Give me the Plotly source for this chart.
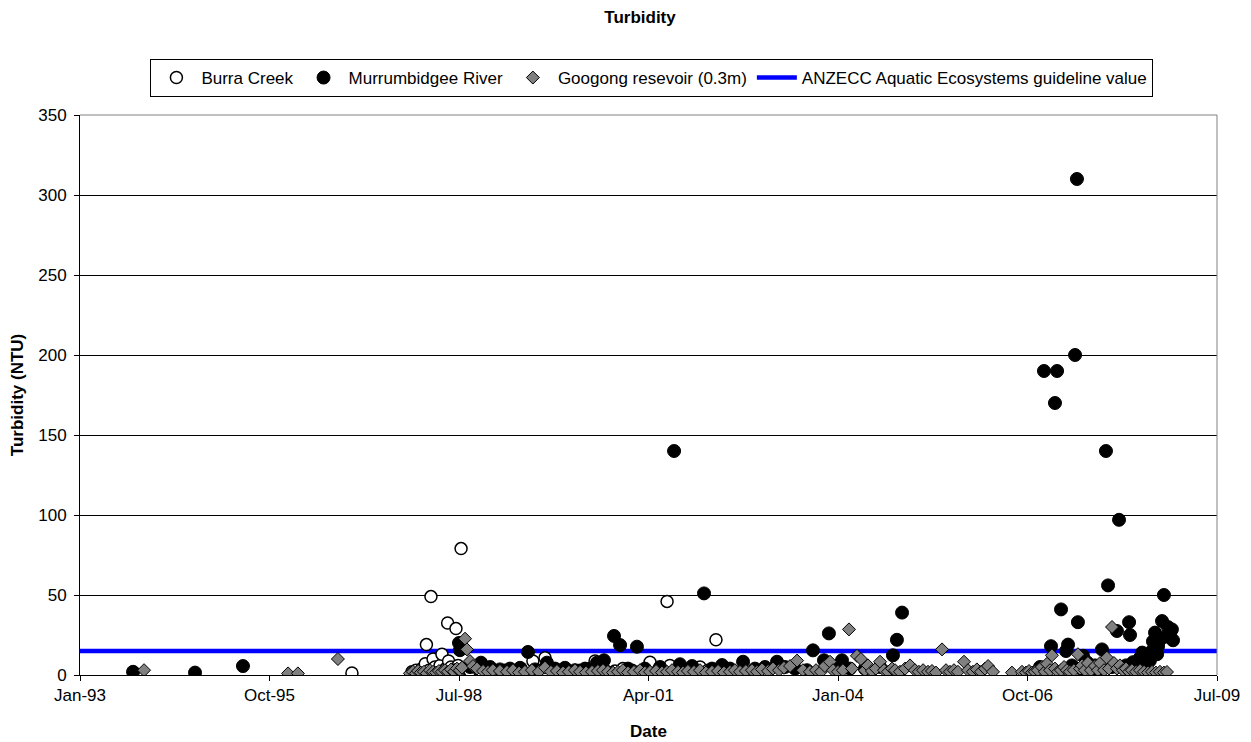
import pandas as pd
import plotly.graph_objects as go

# Dates are Excel serial day numbers (origin 1899-12-30)
burra_serial = [35435, 35752, 35773, 35789, 35805, 35815, 35822, 35828, 35842, 35852,
                35863, 35873, 35884, 35900, 35910, 35921, 35931, 35940, 35945, 35958,
                35968, 35984, 35995, 36011, 36021, 36037, 36058, 36079, 36111, 36153,
                36200, 36243, 36285, 36327, 36390, 36417, 36454, 36491, 36533, 36586,
                36639, 36691, 36718, 36770, 36823, 36865, 36913, 36955, 37008, 37050,
                37098, 37113, 37156, 37208, 37256, 37272, 37314, 37356, 37388, 37430]
burra_ntu = [1.3, 2, 3, 1.5, 4, 2.5, 7, 19, 3, 49,
             10, 5, 2, 6, 13, 3, 4, 32.5, 8.7, 5,
             2, 29, 6, 79, 3, 4, 2.5, 5, 3, 4,
             2.5, 3, 2, 4, 8.7, 3, 10.8, 4, 3, 2,
             3, 4, 8.7, 3, 2.5, 4, 3, 2, 8, 3,
             46, 6, 3, 2.5, 4, 5, 3, 22, 2, 3]

murr_serial = [34280, 34607, 34860, 35979, 36000, 36005, 36058, 36116, 36164, 36216,
               36269, 36322, 36364, 36401, 36464, 36507, 36559, 36612, 36665, 36728,
               36765, 36818, 36850, 36892, 36939, 36981, 37061, 37135, 37166, 37230,
               37293, 37335, 37388, 37430, 37499, 37562, 37615, 37678, 37720, 37773,
               37836, 37868, 37926, 37952, 37984, 38021, 38063, 38142, 38222, 38290,
               38311, 38338,
               39066, 39087, 39124, 39145, 39156, 39177, 39203, 39214, 39235, 39251,
               39261, 39266, 39282, 39293, 39314, 39356, 39372, 39393, 39414, 39425,
               39446, 39472, 39483, 39499, 39520, 39536, 39541, 39557, 39578, 39594,
               39605, 39615, 39631, 39646, 39657, 39662, 39673, 39684, 39689, 39699,
               39710, 39720, 39731, 39741, 39752, 39762, 39768]
murr_ntu = [2, 1.5, 5.6, 3, 20, 15.5, 5, 7.7, 5, 3.5,
            4, 4.5, 14.4, 3.5, 7.7, 4, 4.5, 3, 4, 7.7,
            9.2, 24.4, 18.7, 4, 17.7, 4, 5, 140, 6.7, 5.6,
            51, 4, 6.2, 4, 8.3, 4, 5, 8.3, 5, 4,
            3, 15.4, 9.2, 26, 5, 9.2, 4, 4, 5, 12.3,
            22, 39,
            5, 190, 18, 170, 190, 41, 15, 19, 6, 200,
            310, 33, 4, 12, 8, 6, 3, 16, 140, 56,
            5, 27.5, 97, 5, 6, 33, 25, 8, 4, 10.8,
            14, 6, 12, 9, 15, 21, 26.5, 13, 18, 22,
            33.7, 50, 24, 30, 25, 28.5, 21.7]

goog_serial = [34338, 35098, 35150, 35361,
               35741, 35757, 35773, 35784, 35799, 35815, 35831, 35847, 35863, 35879,
               35894, 35910, 35926, 35942, 35958, 35974, 35989, 36005, 36016, 36032,
               36042, 36058, 36074, 36095, 36127, 36153, 36179, 36216, 36253, 36285,
               36317, 36348, 36385, 36422, 36454, 36485, 36517, 36549, 36580, 36612,
               36639, 36670, 36702, 36733, 36760, 36786, 36813, 36839, 36865, 36892,
               36923, 36955, 36981, 37008, 37040, 37071, 37098, 37124, 37156, 37182,
               37208, 37240, 37272, 37303, 37335, 37367, 37398, 37430, 37456, 37483,
               37514, 37546, 37573, 37599, 37631, 37657, 37689, 37715, 37747, 37784,
               37815, 37852, 37884, 37910, 37931, 37958, 37974, 38000, 38026, 38058,
               38074, 38100, 38121, 38142, 38158, 38179, 38200, 38222, 38243, 38264,
               38285, 38301, 38327, 38354, 38380, 38406, 38427, 38449, 38475, 38496,
               38517, 38549, 38570, 38591, 38612, 38633, 38665, 38686, 38712, 38733,
               38755, 38776, 38792, 38818, 38918, 38971, 38992, 39008, 39024, 39039,
               39055, 39076, 39092, 39103, 39119, 39129, 39145, 39161, 39177, 39193,
               39208, 39224, 39245, 39266, 39277, 39288, 39303, 39319, 39335, 39356,
               39372, 39383, 39404, 39419, 39430, 39446, 39456, 39472, 39488, 39504,
               39520, 39536, 39551, 39573, 39594, 39615, 39636, 39657, 39678, 39699,
               39720, 39736]
goog_ntu = [3, 1, 1, 10,
            1, 2, 1, 2.5, 1.5, 2, 1, 3, 2, 1.5,
            2.5, 2, 3, 2, 3.5, 2, 4, 3, 4.6, 22.7,
            16, 8.7, 5.6, 4, 2.5, 2, 3, 2.5, 2, 3,
            1.5, 2, 3, 2, 4.6, 2, 2.5, 1.5, 2, 3,
            2, 1.5, 2, 2.5, 3, 2, 1.5, 2, 3, 1.5,
            2, 3, 1.5, 2, 2.5, 1.5, 2, 3, 2, 1.5,
            2.5, 2, 3, 1.5, 2, 2.5, 1.5, 2, 3, 2,
            2.5, 3, 2, 3.5, 2.5, 4, 3, 4.5, 5.6, 9,
            3, 2, 3, 2, 5.6, 8.3, 3, 2, 3, 28.5,
            4, 12, 10, 3, 6, 2.5, 4, 8.3, 3, 2,
            4, 3, 2, 4, 6, 3, 2, 3, 2, 2.5,
            1.5, 16, 3, 2, 3, 2, 8.3, 3, 2, 3.5,
            2, 4, 5.6, 2, 1.5, 2, 1.5, 2.5, 1.5, 2,
            3, 5, 2, 7, 3, 12.3, 4, 2, 3, 5,
            3, 2, 3, 13, 4, 6, 3, 7.5, 3, 5.6,
            3, 7.5, 3, 10.8, 4, 30, 7.5, 4, 6, 3,
            4, 2, 3, 2, 3, 2, 1.5, 2, 1.5, 2,
            1.5, 1.9]

guide_serial = [33990, 40010]
guide_ntu = [15, 15]

x_range = ["1993-01-31", "2009-07-06"]


def to_date(s):
    return pd.to_datetime(pd.Series(s), unit="D", origin="1899-12-30")


FONT = "Liberation Sans, Arial, sans-serif"

fig = go.Figure()
fig.add_trace(go.Scatter(
    x=to_date(guide_serial), y=guide_ntu, mode="lines",
    name="ANZECC Aquatic Ecosystems guideline value",
    line=dict(color="#0000FF", width=4.5), legendrank=4))
fig.add_trace(go.Scatter(
    x=to_date(burra_serial), y=burra_ntu, mode="markers", name="Burra Creek",
    marker=dict(symbol="circle", size=12, color="white",
                line=dict(color="black", width=1.5)), legendrank=1))
fig.add_trace(go.Scatter(
    x=to_date(murr_serial), y=murr_ntu, mode="markers", name="Murrumbidgee River",
    marker=dict(symbol="circle", size=13, color="black",
                line=dict(color="black", width=1)), legendrank=2))
fig.add_trace(go.Scatter(
    x=to_date(goog_serial), y=goog_ntu, mode="markers",
    name="Googong resevoir (0.3m)",
    marker=dict(symbol="diamond", size=10, color="#808080",
                line=dict(color="black", width=1)), legendrank=3))

# page body has an 8px margin, so the figure is sized/offset to compensate
fig.update_layout(
    width=1243, height=734,
    margin=dict(l=72, r=34, t=107, b=67),
    paper_bgcolor="white", plot_bgcolor="white",
    font=dict(family=FONT, size=17, color="black"),
    title=dict(text="<b>Turbidity</b>", x=(640 - 8) / 1243, xanchor="center",
               y=1 - 9 / 734, yanchor="middle", font=dict(size=17)),
    legend=dict(orientation="h", x=0.503, xanchor="center", y=1.1, yanchor="top",
                bordercolor="black", borderwidth=1, font=dict(size=17),
                itemwidth=40, itemclick=False),
    showlegend=True,
)
fig.update_xaxes(
    type="date", range=x_range, tick0="1993-01-31", dtick=86400000 * 1000,
    tickformat="%b-%y", ticks="outside", ticklen=5, tickcolor="black",
    showline=True, linecolor="black", linewidth=1, showgrid=False, zeroline=False,
    title=dict(text="<b>Date</b>", font=dict(size=17), standoff=20),
    tickfont=dict(size=17), ticklabelstandoff=0, automargin=False,
)
fig.update_yaxes(
    range=[0, 350], dtick=50, ticks="outside", ticklen=5, tickcolor="black",
    showline=True, linecolor="black", linewidth=1,
    showgrid=True, gridcolor="black", gridwidth=1, zeroline=False,
    title=dict(text="<b>Turbidity (NTU)</b>", font=dict(size=17), standoff=10),
    tickfont=dict(size=17), ticklabelstandoff=4, automargin=False,
)
fig.add_shape(type="path", xref="paper", yref="paper",
              path="M 0,1 L 1,1 L 1,0", line=dict(color="#808080", width=1),
              layer="above")

fig.write_html("out.html")
